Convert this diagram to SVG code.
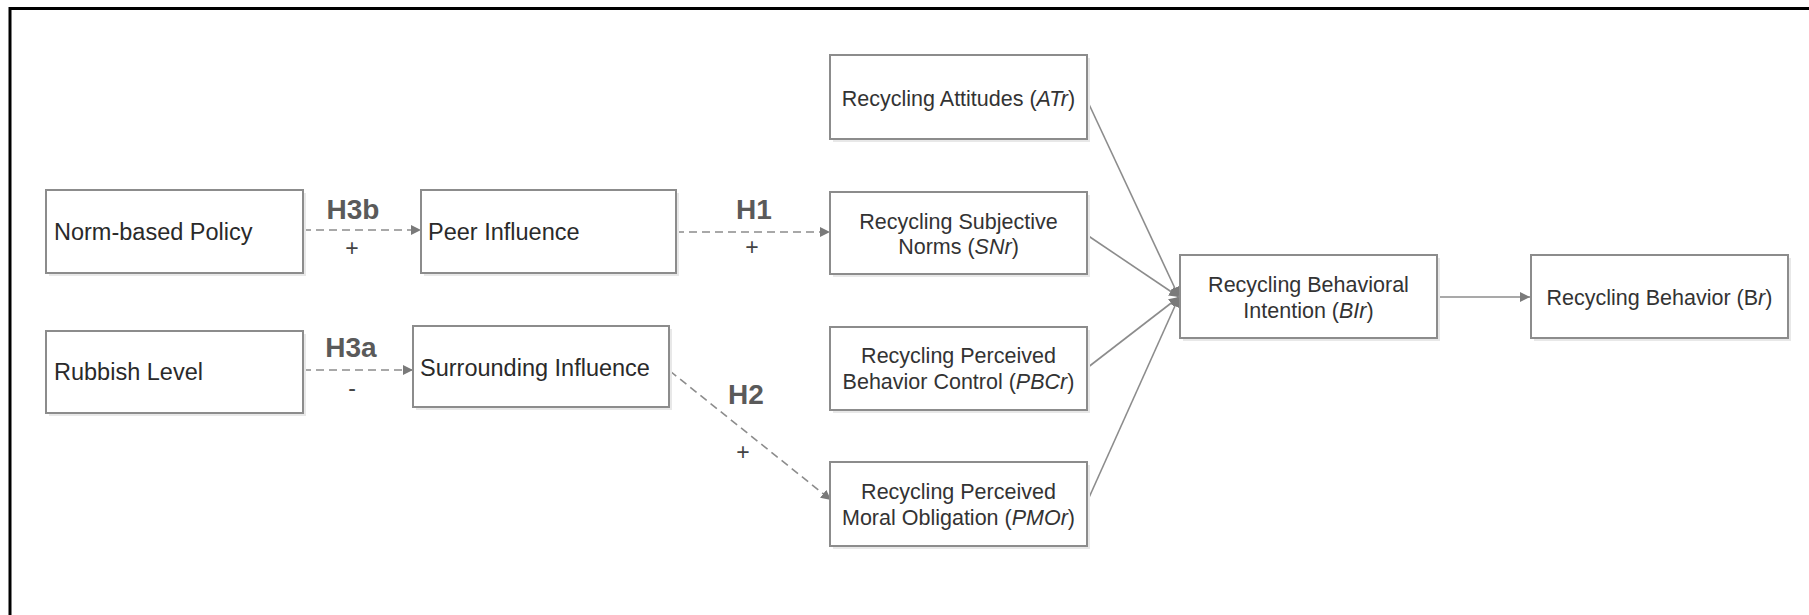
<svg xmlns="http://www.w3.org/2000/svg" width="1809" height="615" viewBox="0 0 1809 615">
<style>
.box{fill:#fff;stroke:#8c8c8c;stroke-width:2}
.sh{fill:#e8e8e8}
.t{font-family:"Liberation Sans",Arial,sans-serif;font-size:21.5px;fill:#333}
.tl{font-family:"Liberation Sans",Arial,sans-serif;font-size:23.5px;fill:#2a2a2a}
.h{font-family:"Liberation Sans",Arial,sans-serif;font-size:28px;font-weight:bold;fill:#5a5a5a;text-anchor:middle}
.s{font-family:"Liberation Sans",Arial,sans-serif;font-size:23px;fill:#444;text-anchor:middle}
.c{text-anchor:middle}
.dash{fill:none;stroke:#8c8c8c;stroke-width:1.6;stroke-dasharray:8 5}
.sol{fill:none;stroke:#8c8c8c;stroke-width:1.6}
</style>
<defs>
<marker id="ah" viewBox="0 0 10 10" refX="10" refY="5" markerWidth="10" markerHeight="10" markerUnits="userSpaceOnUse" orient="auto">
<path d="M0,0 L10,5 L0,10 Z" fill="#7a7a7a"/>
</marker>
</defs>
<rect width="1809" height="615" fill="#fff"/>
<path d="M10,615 L10,8.5 L1809,8.5" fill="none" stroke="#000" stroke-width="3"/>

<g id="connectors">
<line class="dash" x1="303" y1="230" x2="421" y2="230" marker-end="url(#ah)"/>
<line class="dash" x1="303" y1="370" x2="413" y2="370" marker-end="url(#ah)"/>
<line class="dash" x1="676" y1="232" x2="830" y2="232" marker-end="url(#ah)"/>
<line class="dash" x1="670" y1="371" x2="831" y2="500" marker-end="url(#ah)"/>
<line class="sol" x1="1087" y1="100" x2="1179" y2="297" marker-end="url(#ah)"/>
<line class="sol" x1="1087" y1="235" x2="1179" y2="297" marker-end="url(#ah)"/>
<line class="sol" x1="1087" y1="368" x2="1179" y2="297" marker-end="url(#ah)"/>
<line class="sol" x1="1087" y1="502" x2="1179" y2="297" marker-end="url(#ah)"/>
<line class="sol" x1="1437" y1="297" x2="1530" y2="297" marker-end="url(#ah)"/>
<text class="h" x="353" y="219">H3b</text>
<text class="s" x="352" y="256">+</text>
<text class="h" x="351" y="357">H3a</text>
<text class="s" x="352" y="396">-</text>
<text class="h" x="754" y="219">H1</text>
<text class="s" x="752" y="255">+</text>
<text class="h" x="746" y="404">H2</text>
<text class="s" x="743" y="460">+</text>
</g>

<g id="norm-policy">
<rect class="sh" x="49" y="193" width="257" height="83"/>
<rect class="box" x="46" y="190" width="257" height="83"/>
<text class="tl" x="54" y="240">Norm-based Policy</text>
</g>
<g id="peer-influence">
<rect class="sh" x="424" y="193" width="255" height="83"/>
<rect class="box" x="421" y="190" width="255" height="83"/>
<text class="tl" x="428" y="240">Peer Influence</text>
</g>
<g id="rubbish-level">
<rect class="sh" x="49" y="334" width="257" height="82"/>
<rect class="box" x="46" y="331" width="257" height="82"/>
<text class="tl" x="54" y="380">Rubbish Level</text>
</g>
<g id="surrounding-influence">
<rect class="sh" x="416" y="329" width="256" height="81"/>
<rect class="box" x="413" y="326" width="256" height="81"/>
<text class="tl" x="420" y="376">Surrounding Influence</text>
</g>

<g id="atr">
<rect class="sh" x="833" y="58" width="257" height="84"/>
<rect class="box" x="830" y="55" width="257" height="84"/>
<text class="t c" x="958.5" y="106">Recycling Attitudes (<tspan font-style="italic">ATr</tspan>)</text>
</g>
<g id="snr">
<rect class="sh" x="833" y="195" width="257" height="82"/>
<rect class="box" x="830" y="192" width="257" height="82"/>
<text class="t c" x="958.5" y="229">Recycling Subjective</text>
<text class="t c" x="958.5" y="254">Norms (<tspan font-style="italic">SNr</tspan>)</text>
</g>
<g id="pbcr">
<rect class="sh" x="833" y="330" width="257" height="83"/>
<rect class="box" x="830" y="327" width="257" height="83"/>
<text class="t c" x="958.5" y="363">Recycling Perceived</text>
<text class="t c" x="958.5" y="389">Behavior Control (<tspan font-style="italic">PBCr</tspan>)</text>
</g>
<g id="pmor">
<rect class="sh" x="833" y="465" width="257" height="84"/>
<rect class="box" x="830" y="462" width="257" height="84"/>
<text class="t c" x="958.5" y="499">Recycling Perceived</text>
<text class="t c" x="958.5" y="525">Moral Obligation (<tspan font-style="italic">PMOr</tspan>)</text>
</g>
<g id="bir">
<rect class="sh" x="1183" y="258" width="257" height="83"/>
<rect class="box" x="1180" y="255" width="257" height="83"/>
<text class="t c" x="1308.5" y="292">Recycling Behavioral</text>
<text class="t c" x="1308.5" y="318">Intention (<tspan font-style="italic">BIr</tspan>)</text>
</g>
<g id="br">
<rect class="sh" x="1534" y="258" width="257" height="83"/>
<rect class="box" x="1531" y="255" width="257" height="83"/>
<text class="t c" x="1659.5" y="305">Recycling Behavior (B<tspan font-style="italic">r</tspan>)</text>
</g>
</svg>
